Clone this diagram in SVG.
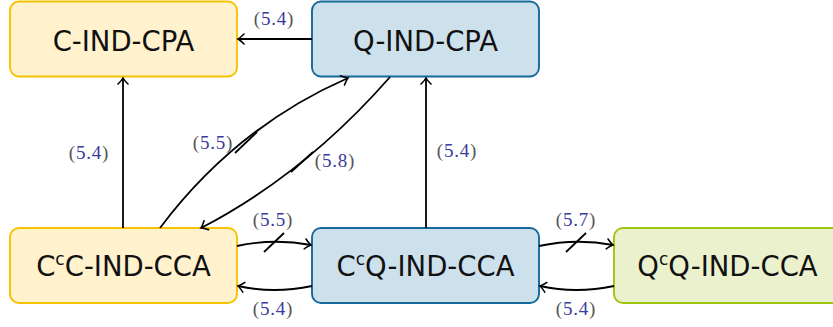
<svg xmlns="http://www.w3.org/2000/svg" width="833" height="327" viewBox="0 0 833 327">
  <style>
    .box { stroke-width: 1.9; }
    .yellow { fill: #fff2cc; stroke: #f7c300; }
    .blue { fill: #cde1ec; stroke: #16699b; }
    .green { fill: #ebf1cd; stroke: #a0c50f; }
    .name { font-family: "DejaVu Sans", "Liberation Sans", sans-serif; font-size: 27.5px; fill: #111; text-anchor: middle; }
    .sup { font-size: 17px; }
    .edge { fill: none; stroke: #000; stroke-width: 1.8; }
    .tick { fill: none; stroke: #000; stroke-width: 1.8; }
    .lbl { font-family: "Liberation Serif", "Times New Roman", serif; font-size: 19px; letter-spacing: 0.8px; text-anchor: middle; fill: #555; }
    .num { fill: #3b3b9b; }
  </style>
  <defs>
    <marker id="to" viewBox="-10 -6 12 12" markerWidth="12" markerHeight="12" refX="0" refY="0" orient="auto" markerUnits="userSpaceOnUse">
      <path d="M-6,-5 Q-2,-1 0,0 Q-2,1 -6,5" fill="none" stroke="#000" stroke-width="1.6" stroke-linecap="round"/>
    </marker>
  </defs>

  <g id="c-ind-cpa">
    <rect class="box yellow" x="10" y="1.5" width="227" height="75" rx="9"/>
    <text class="name" x="123.5" y="51">C-IND-CPA</text>
  </g>
  <g id="q-ind-cpa">
    <rect class="box blue" x="312" y="1.5" width="227" height="75" rx="9"/>
    <text class="name" x="425.5" y="51">Q-IND-CPA</text>
  </g>
  <g id="cc-c-ind-cca">
    <rect class="box yellow" x="10" y="228" width="227" height="75" rx="9"/>
    <text class="name" x="123.5" y="276">C<tspan class="sup" dy="-11">c</tspan><tspan dy="11">C-IND-CCA</tspan></text>
  </g>
  <g id="cc-q-ind-cca">
    <rect class="box blue" x="312" y="228" width="227" height="75" rx="9"/>
    <text class="name" x="425.5" y="276">C<tspan class="sup" dy="-11">c</tspan><tspan dy="11">Q-IND-CCA</tspan></text>
  </g>
  <g id="qc-q-ind-cca">
    <rect class="box green" x="614" y="228" width="227" height="75" rx="9"/>
    <text class="name" x="727.5" y="276">Q<tspan class="sup" dy="-11">c</tspan><tspan dy="11">Q-IND-CCA</tspan></text>
  </g>

  <g id="connectors">
    <!-- Q-IND-CPA to C-IND-CPA -->
    <path class="edge" d="M312,39 L238,39" marker-end="url(#to)"/>
    <!-- vertical implications -->
    <path class="edge" d="M123,228 L123,78" marker-end="url(#to)"/>
    <path class="edge" d="M426,228 L426,78" marker-end="url(#to)"/>
    <!-- diagonal pair -->
    <path class="edge" d="M160,228 Q236,127 348,78" marker-end="url(#to)"/>
    <path class="tick" d="M235,153 L257,132"/>
    <path class="edge" d="M390,77 Q305,174 201,228" marker-end="url(#to)"/>
    <path class="tick" d="M291,172 L313,152"/>
    <!-- bottom row pairs -->
    <path class="edge" d="M237,246 Q274,238 311,245" marker-end="url(#to)"/>
    <path class="tick" d="M264,252 L284,233"/>
    <path class="edge" d="M312,286 Q274,294 238,286" marker-end="url(#to)"/>
    <path class="edge" d="M539,246 Q576,238 613,245" marker-end="url(#to)"/>
    <path class="tick" d="M566,252 L586,233"/>
    <path class="edge" d="M614,286 Q576,294 540,286" marker-end="url(#to)"/>
  </g>

  <g id="labels">
    <text class="lbl" x="274" y="25">(<tspan class="num">5.4</tspan>)</text>
    <text class="lbl" x="89" y="159">(<tspan class="num">5.4</tspan>)</text>
    <text class="lbl" x="457" y="157">(<tspan class="num">5.4</tspan>)</text>
    <text class="lbl" x="213" y="149">(<tspan class="num">5.5</tspan>)</text>
    <text class="lbl" x="335" y="167">(<tspan class="num">5.8</tspan>)</text>
    <text class="lbl" x="273" y="226">(<tspan class="num">5.5</tspan>)</text>
    <text class="lbl" x="273" y="315">(<tspan class="num">5.4</tspan>)</text>
    <text class="lbl" x="576" y="226">(<tspan class="num">5.7</tspan>)</text>
    <text class="lbl" x="576" y="315">(<tspan class="num">5.4</tspan>)</text>
  </g>
</svg>
